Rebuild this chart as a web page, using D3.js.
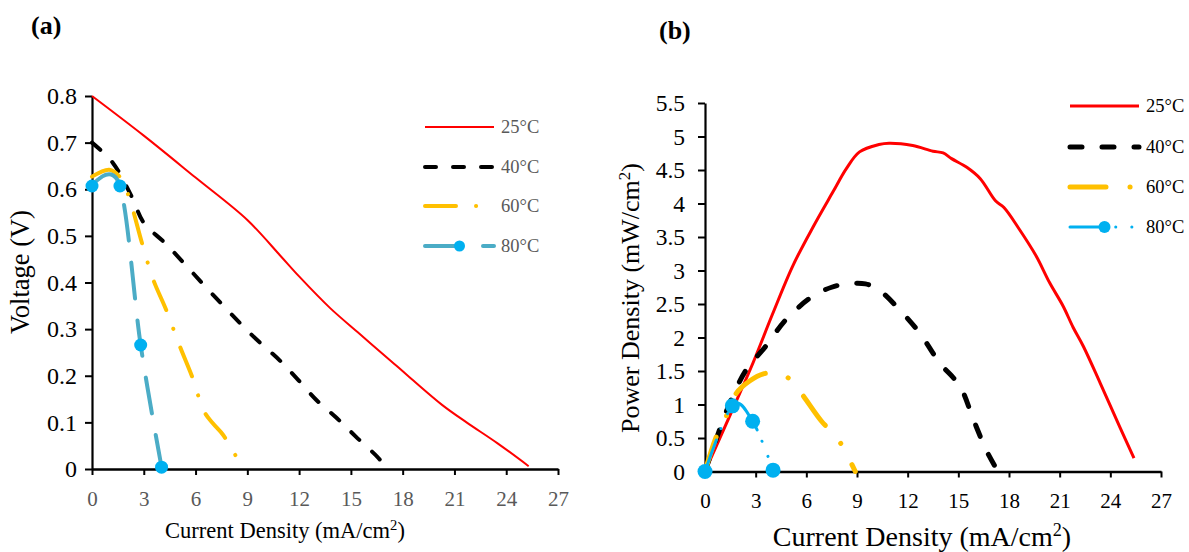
<!DOCTYPE html>
<html><head><meta charset="utf-8">
<script src="https://cdn.jsdelivr.net/npm/d3@7"></script>
<style>
body{margin:0;background:#fff}
svg{display:block}
text{font-family:"Liberation Serif","DejaVu Serif",serif}
</style>
</head><body>
<svg id="c" width="1189" height="552"></svg>
<script>
// ---------- data ----------
const seriesNames = ["25°C", "40°C", "60°C", "80°C"];
const xTickValues = [0, 3, 6, 9, 12, 15, 18, 21, 24, 27];
const voltTicks = [0, 0.1, 0.2, 0.3, 0.4, 0.5, 0.6, 0.7, 0.8];
const powerTicks = [0, 0.5, 1, 1.5, 2, 2.5, 3, 3.5, 4, 4.5, 5, 5.5];

// (a) polarisation curves: [current density, voltage]
const volt25 = [[0,0.8],[3,0.715],[6,0.625],[9,0.534],[10.9,0.458],[12,0.413],[13.8,0.345],[15.5,0.29],[17.25,0.234],[18.3,0.2],[20.3,0.137],[21.7,0.1],[23.5,0.055],[25.3,0.006]];
const volt40 = [[0,0.70],[1.2,0.657],[2.3,0.584],[3,0.528],[4.3,0.482],[7,0.374],[9.3,0.286],[10.9,0.232],[11.85,0.195],[13,0.148],[14.1,0.112],[15.3,0.069],[16.7,0.019],[16.9,0.005]];
const volt60 = [[0,0.627],[1.0,0.642],[1.6,0.627],[2.1,0.588],[2.9,0.484],[3.55,0.406],[4.3,0.341],[5.1,0.262],[5.8,0.198],[6.5,0.123],[7.0,0.098],[7.6,0.073],[8.2,0.036],[8.8,0.002]];
const volt80 = [[0,0.607],[1.62,0.607],[2.82,0.266],[4.03,0.004]];

// (b) power density curves: [current density, power density]
const power25 = [[0,0],[1.5,0.85],[2.84,1.62],[4,2.35],[5.2,3.07],[6.4,3.65],[7.57,4.17],[8.37,4.52],[9.15,4.77],[10.3,4.88],[10.9,4.9],[12.3,4.865],[13.5,4.78],[14.1,4.755],[14.6,4.67],[15.5,4.54],[16.3,4.37],[17.2,4.04],[17.7,3.94],[18.6,3.62],[19.6,3.22],[20.4,2.82],[21.2,2.47],[21.8,2.15],[22.4,1.87],[23.4,1.32],[24.55,0.67],[25.4,0.2]];
const power40 = [[0,0],[0.86,0.62],[1.6,1.1],[2.45,1.52],[3.6,1.87],[4.8,2.27],[6.4,2.62],[7.5,2.75],[8.4,2.8],[9.5,2.8],[10.3,2.71],[11.5,2.42],[12.7,2.07],[13.9,1.62],[15.1,1.27],[15.9,0.77],[16.65,0.32],[17.3,0.02]];
const power60 = [[0,0],[0.67,0.52],[1.27,0.83],[1.86,1.17],[2.64,1.35],[3.5,1.46],[4.1,1.47],[4.8,1.42],[5.6,1.2],[6.9,0.75],[7.8,0.51],[8.4,0.25],[8.9,0.0]];
const power80 = [[0,0],[1.62,0.98],[2.82,0.75],[4.03,0.02]];

// ---------- drawing ----------
const svg = d3.select("#c");
const FONT = '"Liberation Serif","DejaVu Serif",serif';

const styleA = [
  {color:"#FF0000", width:2,   dash:null,             cap:"butt"},
  {color:"#000000", width:4,   dash:"11,17",          cap:"round"},
  {color:"#FFC000", width:4,   dash:"31,20,0.1,20",   cap:"round"},
  {color:"#4BACC6", width:4,   dash:"36,22",          cap:"round", marker:"#00B0F0", r:6.5, lr:5.5}
];
const styleB = [
  {color:"#FF0000", width:3,   dash:null,             cap:"butt"},
  {color:"#000000", width:5,   dash:"12,20",          cap:"round"},
  {color:"#FFC000", width:5,   dash:"36,24,0.1,24",   cap:"round"},
  {color:"#00B0F0", width:3,   dash:"33.5,12.2,0.1,16,0.1,16", cap:"round", marker:"#00B0F0", r:7.5, lr:6}
];

function panel(cfg){
  const x = d3.scaleLinear().domain([0,27]).range([cfg.x0, cfg.x1]);
  const y = d3.scaleLinear().domain([0,cfg.ymax]).range([cfg.y0, cfg.y1]);
  const g = svg.append("g");

  // axes
  const ax = g.append("g").attr("transform",`translate(0,${cfg.y0})`)
    .call(d3.axisBottom(x).tickValues(xTickValues).tickSize(6).tickSizeOuter(0).tickPadding(cfg.xPad));
  ax.select(".domain").attr("stroke","#000").attr("stroke-width",2.6);
  ax.selectAll(".tick line").attr("stroke","#000").attr("stroke-width",2);
  ax.selectAll(".tick text").attr("font-family",FONT).attr("font-size",cfg.xFont).attr("fill",cfg.xTickColor);

  const ay = g.append("g").attr("transform",`translate(${cfg.x0},0)`)
    .call(d3.axisLeft(y).tickValues(cfg.yTicks).tickSize(7).tickSizeOuter(0).tickPadding(cfg.yPad).tickFormat(d3.format("")));
  ay.select(".domain").attr("stroke","#000").attr("stroke-width",2.2);
  ay.selectAll(".tick line").attr("stroke","#000").attr("stroke-width",2);
  ay.selectAll(".tick text").attr("font-family",FONT).attr("font-size",cfg.yFont).attr("fill","#000");

  // series
  const line = d3.line().x(d=>x(d[0])).y(d=>y(d[1]));
  cfg.data.forEach((data,i)=>{
    const s = cfg.styles[i];
    const curve = s.marker ? d3.curveCardinal.tension(0) : d3.curveCatmullRom.alpha(0.5);
    g.append("path").datum(data)
      .attr("d", line.curve(curve))
      .attr("fill","none").attr("stroke",s.color).attr("stroke-width",s.width)
      .attr("stroke-dasharray",s.dash).attr("stroke-linecap",s.cap).attr("stroke-linejoin","round");
    if (s.marker){
      g.selectAll(null).data(data).enter().append("circle")
        .attr("cx",d=>x(d[0])).attr("cy",d=>y(d[1])).attr("r",s.r).attr("fill",s.marker);
    }
  });

  // legend
  seriesNames.forEach((name,i)=>{
    const s = cfg.styles[i];
    const ly = cfg.legY[i];
    g.append("path").attr("d",`M${cfg.legX0},${ly}H${cfg.legX1}`)
      .attr("fill","none").attr("stroke",s.color).attr("stroke-width",s.width)
      .attr("stroke-dasharray",s.dash).attr("stroke-linecap",s.cap);
    if (s.marker){
      g.append("circle").attr("cx",(cfg.legX0+cfg.legX1)/2).attr("cy",ly).attr("r",s.lr).attr("fill",s.marker);
    }
    g.append("text").attr("x",cfg.legX1+7).attr("y",ly).attr("dy","0.35em")
      .attr("font-family",FONT).attr("font-size",18.5).attr("fill",cfg.legColor).text(name);
  });

  // axis titles
  const xt = g.append("text").attr("x",cfg.xTitleX).attr("y",cfg.xTitleY)
    .attr("text-anchor","middle").attr("font-family",FONT).attr("font-size",cfg.xTitleFont).attr("fill","#000");
  xt.append("tspan").text("Current Density (mA/cm");
  xt.append("tspan").attr("dy",-cfg.xTitleFont*0.35).attr("font-size",cfg.xTitleFont*0.65).text("2");
  xt.append("tspan").attr("dy",cfg.xTitleFont*0.35).text(")");

  const yt = g.append("text").attr("transform",`translate(${cfg.yTitleX},${cfg.yTitleY}) rotate(-90)`)
    .attr("text-anchor","middle").attr("font-family",FONT).attr("font-size",cfg.yTitleFont).attr("fill","#000");
  yt.append("tspan").text(cfg.yTitle);
  if (cfg.yTitleSup){
    yt.append("tspan").attr("dy",-cfg.yTitleFont*0.35).attr("font-size",cfg.yTitleFont*0.65).text("2");
    yt.append("tspan").attr("dy",cfg.yTitleFont*0.35).text(")");
  }

  // panel label
  g.append("text").attr("x",cfg.labX).attr("y",cfg.labY).attr("font-family",FONT)
    .attr("font-weight","bold").attr("font-size",26).attr("fill","#000").text(cfg.label);
}

panel({
  x0:92, x1:558, y0:469, y1:96, ymax:0.8, yTicks:voltTicks,
  xPad:16, yPad:8, xFont:21, yFont:24, xTickColor:"#595959",
  data:[volt25,volt40,volt60,volt80], styles:styleA,
  legX0:425, legX1:494, legY:[127,167,206,246], legColor:"#595959",
  xTitleX:285, xTitleY:538, xTitleFont:22.5,
  yTitleX:29, yTitleY:272, yTitleFont:26.5,
  yTitle:"Voltage (V)", yTitleSup:false,
  label:"(a)", labX:31, labY:34
});

panel({
  x0:705, x1:1161, y0:471.5, y1:103, ymax:5.5, yTicks:powerTicks,
  xPad:16, yPad:13, xFont:21, yFont:23.5, xTickColor:"#000",
  data:[power25,power40,power60,power80], styles:styleB,
  legX0:1070, legX1:1139, legY:[106,147,187,227], legColor:"#000",
  xTitleX:922, xTitleY:546, xTitleFont:28,
  yTitleX:639, yTitleY:298, yTitleFont:26,
  yTitle:"Power Density (mW/cm", yTitleSup:true,
  label:"(b)", labX:659, labY:39
});
</script>
</body></html>
